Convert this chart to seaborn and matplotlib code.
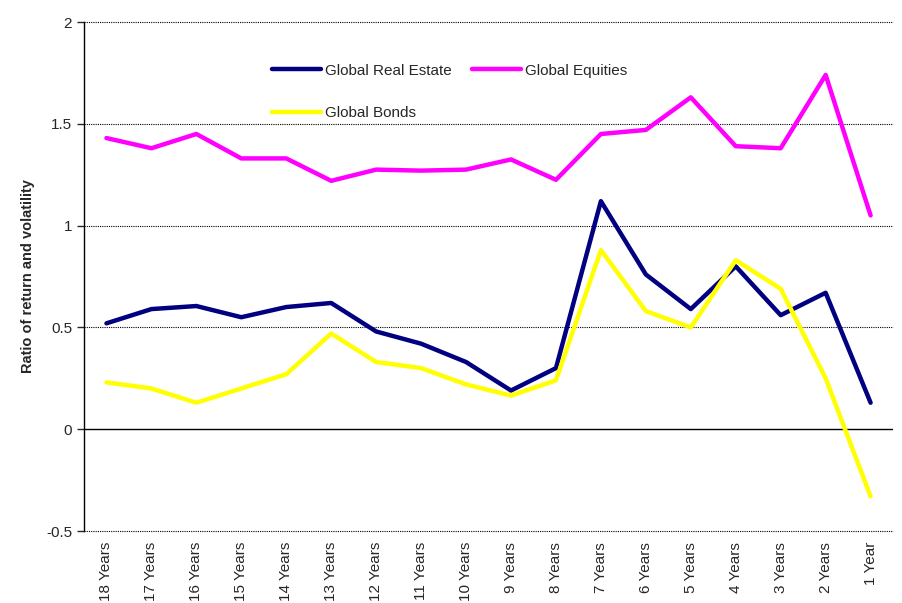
import pandas as pd
import matplotlib
matplotlib.use('Agg')
import matplotlib.pyplot as plt
import seaborn as sns

# data
periods = ['18 Years', '17 Years', '16 Years', '15 Years', '14 Years', '13 Years',
           '12 Years', '11 Years', '10 Years', '9 Years', '8 Years', '7 Years',
           '6 Years', '5 Years', '4 Years', '3 Years', '2 Years', '1 Year']
real_estate = [0.52, 0.59, 0.605, 0.55, 0.60, 0.62, 0.48, 0.42, 0.33, 0.19, 0.30, 1.12,
               0.76, 0.59, 0.80, 0.56, 0.67, 0.13]
equities = [1.43, 1.38, 1.45, 1.33, 1.33, 1.22, 1.275, 1.27, 1.275, 1.325, 1.225, 1.45,
            1.47, 1.63, 1.39, 1.38, 1.74, 1.05]
bonds = [0.23, 0.20, 0.13, 0.20, 0.27, 0.47, 0.33, 0.30, 0.22, 0.165, 0.24, 0.88,
         0.58, 0.50, 0.83, 0.69, 0.25, -0.33]
series = ['Global Real Estate', 'Global Equities', 'Global Bonds']
colors = ['#000080', '#FF00FF', '#FFFF00']

df = pd.DataFrame({'Period': periods * 3,
                   'Ratio': real_estate + equities + bonds,
                   'Series': sum([[s] * len(periods) for s in series], [])})

sns.set_style('white')
plt.rcParams['font.family'] = ['Liberation Sans', 'DejaVu Sans']

fig = plt.figure(figsize=(9.03, 6.03), dpi=100)
ax = fig.add_axes([0.093, 0.1194, 0.896, 0.8441])

sns.lineplot(data=df, x='Period', y='Ratio', hue='Series', palette=colors,
             sort=False, lw=3.2, ax=ax)

ax.set_xlim(-0.5, len(periods) - 0.5)
ax.set_ylim(-0.5, 2)
ax.set_yticks([-0.5, 0, 0.5, 1, 1.5, 2])
ax.set_yticklabels(['-0.5', '0', '0.5', '1', '1.5', '2'])
for y in [-0.5, 0.5, 1, 1.5, 2]:
    ax.axhline(y, color='black', lw=0.8, ls=(0, (1, 1)), zorder=0, clip_on=False)
ax.axhline(0, color='black', lw=1, zorder=0)

plt.xticks(rotation=90)
ax.tick_params(axis='x', length=0, labelsize=11, pad=8)
ax.tick_params(axis='y', length=5, width=1, labelsize=11, left=True, direction='out')
ax.set_xlabel('')
ax.set_ylabel('Ratio of return and volatility', fontsize=10.5, fontweight='bold', labelpad=8)

for s in ['top', 'right', 'bottom']:
    ax.spines[s].set_visible(False)
ax.spines['left'].set_color('black')
ax.spines['left'].set_linewidth(1)

# legend in row order: RE, Equities / Bonds
h, l = ax.get_legend_handles_labels()
order = [0, 2, 1]
leg = ax.legend([h[i] for i in order], [l[i] for i in order], ncol=2, frameon=False,
                loc='upper left', bbox_to_anchor=(0.215, 0.945), handlelength=3.2,
                handletextpad=0.3, labelspacing=1.85, columnspacing=1.3, fontsize=11)

plt.savefig('out.png', dpi=100)
